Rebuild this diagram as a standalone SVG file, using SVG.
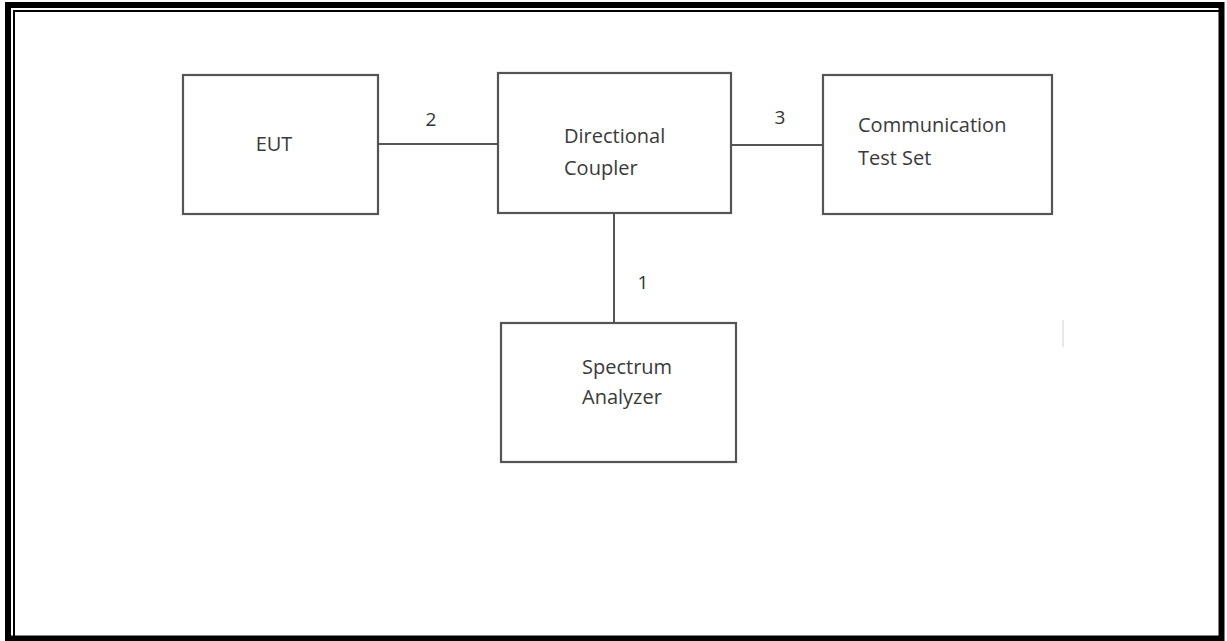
<svg xmlns="http://www.w3.org/2000/svg" width="1227" height="641" viewBox="0 0 1227 641">
<style>
.box{fill:#fff;stroke:#555;stroke-width:2.2}
.wire{stroke:#555;stroke-width:2;fill:none}
.t{font-family:"Open Sans","Liberation Sans",sans-serif;font-size:20px;fill:#3a3a3a}
.n{font-family:"Open Sans","Liberation Sans",sans-serif;font-size:19px;fill:#333}
</style>
<rect width="1227" height="641" fill="#fff"/>
<g id="frame">
<rect x="8" y="5" width="1213.5" height="633.5" fill="none" stroke="#000" stroke-width="6"/>
<rect x="14" y="11" width="1206" height="626" fill="none" stroke="#000" stroke-width="2"/>
<line x1="1063" y1="320" x2="1063" y2="347" stroke="#e2e2e2" stroke-width="1.5"/>
</g>
<g id="connectors">
<line class="wire" x1="378" y1="144" x2="498" y2="144"/>
<line class="wire" x1="731" y1="145" x2="823" y2="145"/>
<line class="wire" x1="614" y1="213" x2="614" y2="323"/>
<text class="n" x="431" y="126" text-anchor="middle">2</text>
<text class="n" x="780" y="124" text-anchor="middle">3</text>
<text class="n" x="643" y="289" text-anchor="middle">1</text>
</g>
<g id="eut">
<rect class="box" x="183" y="75" width="195" height="139"/>
<text class="t" x="274" y="151" text-anchor="middle">EUT</text>
</g>
<g id="coupler">
<rect class="box" x="498" y="73" width="233" height="140"/>
<text class="t" x="564" y="143">Directional</text>
<text class="t" x="564" y="175">Coupler</text>
</g>
<g id="testset">
<rect class="box" x="823" y="75" width="229" height="139"/>
<text class="t" x="858" y="132">Communication</text>
<text class="t" x="858" y="165">Test Set</text>
</g>
<g id="analyzer">
<rect class="box" x="501" y="323" width="235" height="139"/>
<text class="t" x="582" y="374">Spectrum</text>
<text class="t" x="582" y="404">Analyzer</text>
</g>
</svg>
